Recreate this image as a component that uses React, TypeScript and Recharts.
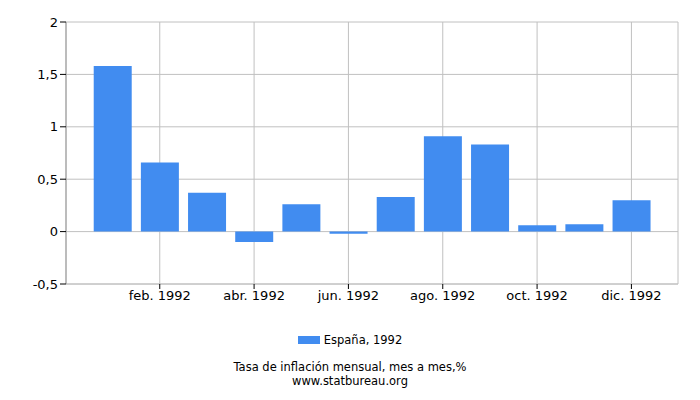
import React from 'react';
import { BarChart, Bar, XAxis, YAxis, CartesianGrid } from 'recharts';

const months = [
  'ene. 1992', 'feb. 1992', 'mar. 1992', 'abr. 1992', 'may. 1992', 'jun. 1992',
  'jul. 1992', 'ago. 1992', 'sept. 1992', 'oct. 1992', 'nov. 1992', 'dic. 1992',
];
const inflation = [1.58, 0.66, 0.37, -0.1, 0.26, -0.02, 0.33, 0.91, 0.83, 0.06, 0.07, 0.3];
const xTicks = ['feb. 1992', 'abr. 1992', 'jun. 1992', 'ago. 1992', 'oct. 1992', 'dic. 1992'];
const yTicks = [-0.5, 0, 0.5, 1, 1.5, 2];
const seriesName = 'España, 1992';
const chartTitle = 'Tasa de inflación mensual, mes a mes,%';
const source = 'www.statbureau.org';

const FONT = '"DejaVu Sans", Verdana, sans-serif';
const BLUE = '#418cf0';

const data = months.map((m, i) => ({ month: m, value: inflation[i] }));

export default function App() {
  return (
    <div style={{ position: 'absolute', left: 0, top: 0, width: 700, height: 400, background: '#fff' }}>
      <BarChart
        width={700}
        height={400}
        data={data}
        margin={{ top: 22, right: 22, left: 0, bottom: 86 }}
        barCategoryGap="10%"
      >
        <CartesianGrid stroke="#c0c0c0" />
        <XAxis
          dataKey="month"
          ticks={xTicks}
          interval={0}
          padding={{ left: 23, right: 23 }}
          height={30}
          tick={{ fontFamily: FONT, fontSize: 13, fill: '#000' }}
          tickLine={{ stroke: '#000' }}
          tickSize={5}
          axisLine={{ stroke: '#c0c0c0' }}
        />
        <YAxis
          domain={[-0.5, 2]}
          ticks={yTicks}
          width={66}
          tick={{ fontFamily: FONT, fontSize: 13, fill: '#000' }}
          tickLine={{ stroke: '#000' }}
          tickSize={6}
          axisLine={{ stroke: '#999' }}
          tickFormatter={(v: number) => String(v).replace('.', ',')}
        />
        <YAxis
          yAxisId="r"
          orientation="right"
          width={0}
          tick={false}
          tickLine={false}
          axisLine={{ stroke: '#c0c0c0' }}
        />
        <Bar dataKey="value" name={seriesName} fill={BLUE} isAnimationActive={false} />
      </BarChart>
      <div
        style={{
          position: 'absolute',
          top: 333,
          left: 0,
          width: 700,
          display: 'flex',
          justifyContent: 'center',
          alignItems: 'center',
          fontFamily: FONT,
          fontSize: 11.5,
          color: '#000',
        }}
      >
        <span style={{ display: 'inline-block', width: 22, height: 8, background: BLUE, marginRight: 4 }} />
        <span>{seriesName}</span>
      </div>
      <div
        style={{
          position: 'absolute',
          top: 361,
          left: 0,
          width: 700,
          textAlign: 'center',
          fontFamily: FONT,
          fontSize: 11.5,
          lineHeight: '13.5px',
          color: '#000',
        }}
      >
        <div>{chartTitle}</div>
        <div>{source}</div>
      </div>
    </div>
  );
}
